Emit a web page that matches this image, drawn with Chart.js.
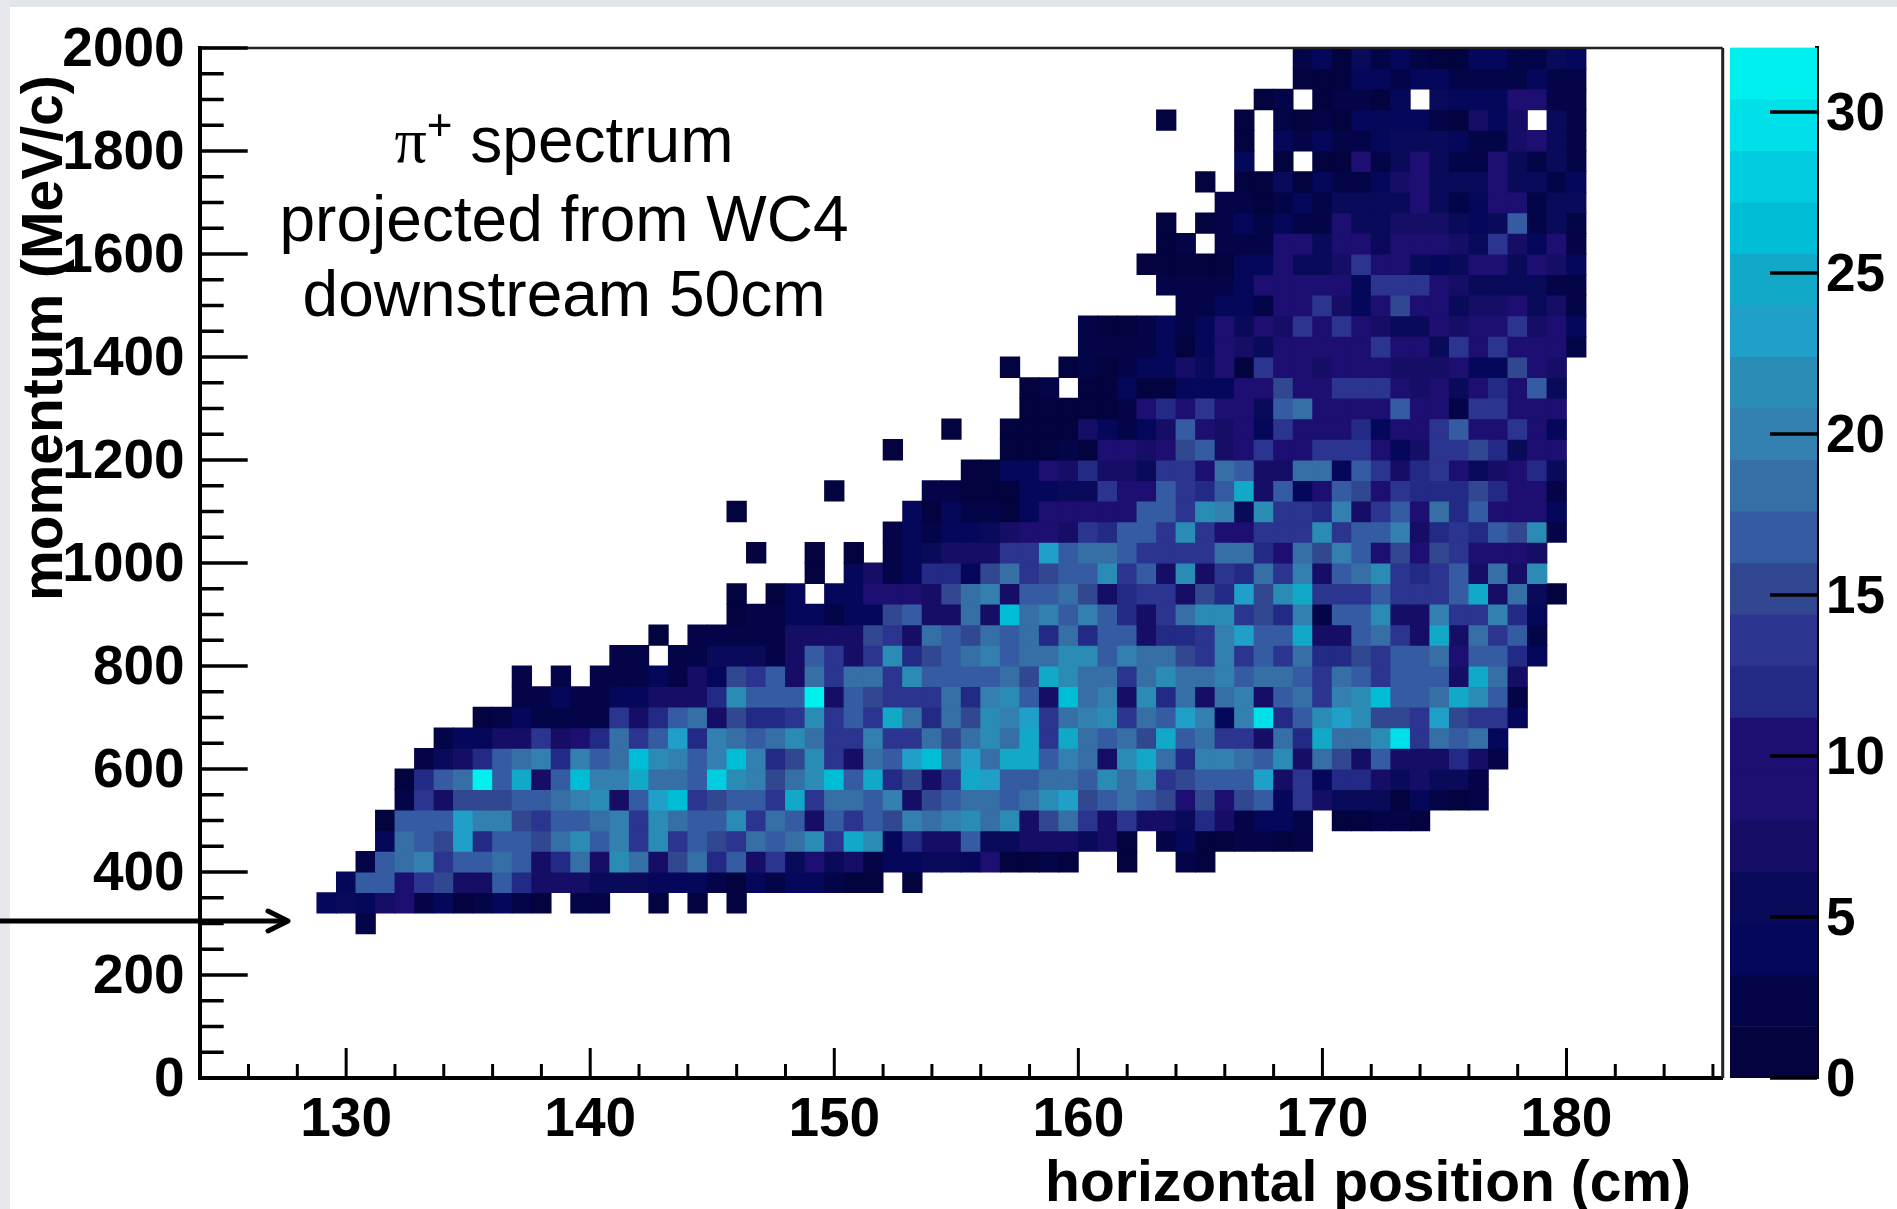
<!DOCTYPE html>
<html>
<head>
<meta charset="utf-8">
<title>pi+ spectrum</title>
<script src="https://cdn.jsdelivr.net/npm/chart.js@4"></script>
<style>
    html, body { margin: 0; padding: 0; background: #fff; overflow: hidden; }
    #slide { position: relative; width: 1897px; height: 1209px; overflow: hidden; background: #fff; }
    #topBand { position: absolute; left: 0; top: 0; width: 1897px; height: 7px; background: #e2e5ea; }
    #leftBand { position: absolute; left: 0; top: 0; width: 10px; height: 1209px; background: #e6e8ed; }
    canvas { position: absolute; top: 0; filter: blur(0.6px); }
    #mainChart { left: 0; }
    #paletteChart { left: 1700px; }
    #note { position: absolute; left: 214px; top: 106px; width: 700px; text-align: center;
        font: 64px/75.5px "Liberation Sans", sans-serif; color: #000; }
    #note .first { position: relative; top: -3px; }
    #note .pi { font-family: "Liberation Serif", serif; }
    #note sup { font-size: 44px; line-height: 0; vertical-align: 22px; }
    #arrow { position: absolute; left: 0; top: 0; }
</style>
</head>
<body>
<div id="slide">
    <div id="topBand"></div>
    <div id="leftBand"></div>
    <canvas id="mainChart" width="1897" height="1209"></canvas>
    <canvas id="paletteChart" width="197" height="1209"></canvas>
    <svg id="arrow" width="320" height="1000">
        <g fill="none" stroke="#000" stroke-width="5" stroke-linecap="round" stroke-linejoin="round">
            <path d="M0 921 H286"/>
            <path d="M268 911 L288 921 L268 931"/>
        </g>
    </svg>
    <div id="note"><span class="first"><span class="pi">π</span><sup>+</sup> spectrum</span><br>projected from WC4<br>downstream 50cm</div>
</div>
<script>
// histogram binning
const xMin = 124, xMax = 186.4, binWidth = 0.8;
const yMin = 0, yMax = 2000, binHeight = 40;
const zMax = 32;

const xTicks = [130, 140, 150, 160, 170, 180];
const yTicks = [0, 200, 400, 600, 800, 1000, 1200, 1400, 1600, 1800, 2000];
const zTicks = [0, 5, 10, 15, 20, 25, 30];

// first filled x bin of each momentum row, row 7 upwards
const firstBin = [8, 6, 7, 8, 9, 9, 10, 10, 11, 12, 14, 16, 16, 21, 23, 27, 27, 31, 28, 35, 27, 32, 39, 35, 38, 42, 42, 41, 45, 45, 50, 49, 48, 49, 49, 52, 51, 53, 53, 49, 54, 56, 56];

// counts per bin, 0 is an empty bin
const counts = [
    [2],
    [4,5,4,7,10,2,4,1,2,4,2,1,0,2,2,0,0,1,0,1,0,1],
    [4,16,16,10,13,15,7,7,16,12,7,7,7,5,5,5,4,4,4,2,1,4,2,4,4,2,1,1,0,1],
    [2,16,18,20,13,16,16,18,16,7,12,18,7,21,18,7,15,18,12,16,7,13,5,10,5,7,2,4,4,5,5,4,10,1,1,2,1,0,0,1,0,0,2,1],
    [4,18,16,15,23,12,16,16,15,18,21,16,20,13,21,13,16,15,13,18,16,18,21,13,25,21,4,12,7,7,16,5,5,7,7,7,5,7,1,0,2,4,1,1,2,2,1,2],
    [1,16,16,16,23,20,20,15,13,16,16,18,20,13,21,18,16,16,21,13,18,16,7,16,13,16,15,20,18,20,21,18,21,7,15,18,13,7,13,7,7,5,12,7,2,4,4,2,0,1,1,2,2,1],
    [2,13,7,15,15,15,16,16,18,20,21,7,16,23,26,13,15,16,16,13,25,13,18,18,16,20,7,15,16,18,18,16,18,21,23,15,16,18,16,15,10,15,10,15,16,4,13,7,5,5,5,1,4,2,1,2],
    [1,12,16,18,31,16,25,7,16,26,20,20,25,18,18,16,28,21,20,15,18,21,26,16,25,12,15,7,13,25,23,16,16,18,18,16,21,18,21,13,15,16,16,16,23,7,13,4,12,12,7,5,7,5,5,2],
    [2,5,7,12,16,18,20,12,20,16,18,26,21,20,16,20,26,20,12,15,21,13,7,18,16,23,26,18,23,18,25,25,16,20,18,7,21,25,18,12,20,20,18,16,21,7,18,15,7,16,7,7,7,12,7,2],
    [2,4,4,7,7,13,7,10,12,18,13,16,23,12,20,18,16,18,21,18,13,13,20,13,13,18,15,18,21,18,25,13,25,18,16,18,15,25,16,18,13,13,7,18,12,25,18,18,21,29,13,18,16,18,4],
    [1,2,4,2,2,2,2,13,7,12,16,18,7,15,12,12,13,21,13,16,13,25,18,12,18,15,21,20,23,13,18,20,21,13,18,16,23,20,4,20,29,12,16,21,23,21,15,15,13,23,15,13,13,4],
    [2,2,4,2,2,4,4,7,7,7,12,21,16,16,16,31,7,16,15,13,13,13,18,12,20,21,16,7,26,18,20,7,21,12,18,7,18,20,7,16,18,13,20,21,26,16,16,18,25,21,16,2],
    [2,0,2,0,2,2,2,4,2,7,4,15,13,16,7,18,13,18,18,13,21,16,16,16,16,18,15,25,21,18,18,13,18,21,18,18,20,16,18,18,16,13,18,16,13,16,16,16,7,25,18,7],
    [2,2,0,2,2,5,5,5,2,7,16,13,7,13,21,12,15,16,18,20,16,18,18,21,21,16,20,18,18,15,13,20,13,16,13,18,12,12,15,13,16,16,18,10,16,16,12,4],
    [1,0,2,2,2,2,2,7,7,7,7,15,13,7,18,16,15,18,16,18,12,18,12,16,16,7,12,12,13,20,23,16,16,25,7,7,16,18,13,7,25,7,18,13,16,2],
    [1,2,2,4,4,2,4,4,15,16,7,7,18,7,26,18,20,16,20,16,12,7,13,18,21,21,13,15,12,20,2,16,16,21,7,7,20,13,13,20,12,4],
    [1,0,1,4,0,4,4,10,10,10,7,15,18,20,7,16,16,18,15,7,12,13,13,7,15,12,23,15,21,25,13,13,13,16,13,13,13,16,25,7,18,5,1],
    [1,0,4,7,2,4,12,12,4,15,18,13,15,16,16,21,13,16,7,21,7,13,12,18,13,20,7,16,18,21,13,12,13,16,7,18,7,21],
    [1,0,0,1,0,1,0,2,4,5,7,7,7,13,13,23,16,18,18,16,13,13,13,13,18,18,12,10,18,15,20,16,10,15,10,15,13,10,10,10,7],
    [2,4,2,4,4,5,7,10,10,7,13,12,16,16,13,21,13,10,10,13,13,13,21,13,16,16,20,7,12,13,12,16,15,21,2],
    [1,0,0,0,0,0,0,0,0,4,1,4,2,2,1,4,10,10,10,10,10,16,16,13,21,20,5,21,13,13,12,20,7,13,16,10,18,12,16,10,10,10,4],
    [1,0,0,0,0,2,2,1,1,1,4,4,5,5,13,10,10,16,13,12,16,25,7,16,4,10,16,15,10,13,12,12,12,15,12,10,10,2],
    [1,1,4,4,10,7,12,7,7,5,13,13,10,18,16,7,7,18,18,4,16,13,7,12,13,10,5,7,10,12,5],
    [1,0,0,0,0,0,1,1,1,2,1,10,10,7,10,15,16,7,10,13,10,10,13,13,13,10,4,7,13,13,15,12,5,10,10],
    [1,0,0,1,1,1,1,7,4,2,4,7,16,10,7,10,4,13,10,10,10,12,4,10,10,13,16,10,10,13,10,4],
    [1,1,1,1,1,2,10,12,10,13,10,10,5,16,18,10,10,10,10,16,10,10,2,13,13,10,10,10],
    [1,2,0,1,1,4,1,1,4,4,4,10,10,15,10,10,13,13,13,10,7,10,5,10,12,10,16,5],
    [1,0,0,1,2,1,2,4,4,7,5,10,1,13,10,10,7,10,10,10,7,7,7,10,4,4,15,10,7],
    [2,2,2,2,4,1,4,10,7,5,10,10,10,10,10,13,10,10,5,13,10,13,10,10,10,2],
    [2,1,1,2,4,2,4,10,5,10,7,13,10,13,10,7,5,5,10,7,10,10,13,7,10,4],
    [2,2,4,4,2,10,10,13,7,4,10,15,10,10,5,7,7,10,5,7,2],
    [2,2,2,2,4,10,10,10,10,10,4,13,13,13,10,7,5,5,5,5,2,2],
    [1,1,1,1,1,4,4,10,5,5,7,13,10,10,5,4,5,10,10,5,10,7,4],
    [1,2,0,2,2,2,10,10,5,10,10,5,10,10,10,7,5,13,7,4,10,2],
    [1,0,1,2,4,2,4,2,2,10,5,5,7,7,7,5,4,5,16,2,5,2],
    [2,2,1,2,4,2,5,5,5,5,10,5,2,4,10,10,2,5,5],
    [1,0,1,1,5,1,4,2,2,4,7,10,5,5,5,10,5,5,2,4],
    [4,0,1,0,1,1,10,2,5,10,5,2,2,10,5,2,5,2],
    [1,0,4,2,4,2,2,4,5,5,5,4,2,2,7,10,5,2],
    [1,0,0,0,1,0,2,1,2,1,4,4,4,4,2,1,7,4,7,0,5,2],
    [1,2,0,1,2,2,1,4,0,5,4,4,4,10,10,2,2],
    [1,1,1,4,4,2,4,4,2,2,2,2,4,2,2],
    [2,4,1,5,2,4,2,1,1,4,4,2,2,5,4]
];

// twenty contour colours, bottom of the palette first
const paletteColors = ['#03033f', '#040448', '#05085a', '#0a0a5a', '#160e66', '#1d0f72', '#1d0f72', '#232a85', '#2b358f', '#31478f',
    '#355ca3', '#356fa5', '#337fb0', '#2a8cb5', '#20a0c8', '#12a8c8', '#00bdd6', '#00cde0', '#00e0e8', '#00f0f0'];
const firstRow = 7;

function colorFor(value) {
    const level = Math.min(Math.floor(value / (zMax / paletteColors.length)), paletteColors.length - 1);
    return paletteColors[level];
}

const cells = [];
const cellColors = [];
counts.forEach((row, r) => {
    row.forEach((value, i) => {
        if (value === 0) return;
        const bin = firstBin[r] + i;
        const low = (firstRow + r) * binHeight;
        cells.push({ x: xMin + (bin + 0.5) * binWidth, y: [low, low + binHeight] });
        cellColors.push(colorFor(value));
    });
});

const paletteBars = paletteColors.map((c, i) => ({ x: 0.5, y: [i * zMax / paletteColors.length, (i + 1) * zMax / paletteColors.length] }));

Chart.defaults.font.family = '"Liberation Sans", sans-serif';
Chart.defaults.color = '#000';
Chart.defaults.animation = false;

function tick(ctx, x1, y1, x2, y2, w) {
    ctx.lineWidth = w;
    ctx.beginPath();
    ctx.moveTo(x1, y1);
    ctx.lineTo(x2, y2);
    ctx.stroke();
}

// ROOT style ticks point into the frame and have two lengths
const frameTicks = {
    id: 'frameTicks',
    afterDatasetsDraw(chart) {
        const { ctx, chartArea: a, scales } = chart;
        ctx.save();
        ctx.strokeStyle = '#222';
        tick(ctx, a.left, a.top, a.right, a.top, 2.5);
        tick(ctx, a.right, a.top, a.right, a.bottom, 3);
        ctx.strokeStyle = '#000';
        for (let v = 0; v <= yMax; v += 50) {
            const y = scales.y.getPixelForValue(v);
            tick(ctx, a.left, y, a.left + (yTicks.includes(v) ? 48 : 24), y, 3.5);
        }
        for (let v = 126; v <= xMax; v += 2) {
            const x = scales.x.getPixelForValue(v);
            tick(ctx, x, a.bottom, x, a.bottom - (xTicks.includes(v) ? 30 : 14), 3);
        }
        ctx.restore();
    }
};

const paletteTicks = {
    id: 'paletteTicks',
    afterDatasetsDraw(chart) {
        const { ctx, chartArea: a, scales } = chart;
        ctx.save();
        ctx.strokeStyle = '#000';
        zTicks.forEach(v => {
            const y = scales.y.getPixelForValue(v);
            tick(ctx, a.right, y, a.right - 47, y, 3.5);
        });
        ctx.restore();
    }
};

new Chart(document.getElementById('mainChart'), {
    type: 'bar',
    data: {
        datasets: [{
            data: cells,
            backgroundColor: cellColors,
            barThickness: 19.51,
            borderWidth: 0,
            inflateAmount: 0.4
        }]
    },
    options: {
        responsive: false,
        layout: { padding: { left: 0, top: 47.5, right: 174.3, bottom: 0 } },
        plugins: { legend: { display: false }, tooltip: { enabled: false } },
        scales: {
            x: {
                type: 'linear',
                offset: false,
                min: xMin,
                max: xMax,
                afterBuildTicks: s => { s.ticks = xTicks.map(value => ({ value })); },
                afterFit: s => { s.height = 131; },
                grid: { display: false, drawTicks: false },
                border: { color: '#000', width: 4 },
                ticks: { font: { size: 55, weight: 'bold' }, padding: 10, autoSkip: false, maxRotation: 0, callback: v => String(v) },
                title: {
                    display: true,
                    text: 'horizontal position (cm)  ',
                    align: 'end',
                    font: { size: 57, weight: 'bold', lineHeight: 1 },
                    padding: { top: 0, bottom: -5 }
                }
            },
            y: {
                min: yMin,
                max: yMax,
                afterBuildTicks: s => { s.ticks = yTicks.map(value => ({ value })); },
                afterFit: s => { s.width = 199.7; },
                grid: { display: false, drawTicks: false },
                border: { color: '#000', width: 4 },
                ticks: { font: { size: 55, weight: 'bold' }, padding: 15, labelOffset: 3, autoSkip: false, callback: v => String(v) },
                title: {
                    display: true,
                    text: 'momentum (MeV/c) \u2009',
                    align: 'end',
                    font: { size: 57, weight: 'bold', lineHeight: 1 },
                    padding: { top: 18, bottom: 0 }
                }
            }
        }
    },
    plugins: [frameTicks]
});

new Chart(document.getElementById('paletteChart'), {
    type: 'bar',
    data: {
        datasets: [{
            data: paletteBars,
            backgroundColor: paletteColors,
            barThickness: 87,
            borderWidth: 0
        }]
    },
    options: {
        responsive: false,
        layout: { padding: { left: 30, top: 47.5, right: 0, bottom: 131 } },
        plugins: { legend: { display: false }, tooltip: { enabled: false } },
        scales: {
            x: { type: 'linear', offset: false, min: 0, max: 1, display: false },
            y: {
                position: 'right',
                min: 0,
                max: zMax,
                afterBuildTicks: s => { s.ticks = zTicks.map(value => ({ value })); },
                afterFit: s => { s.width = 80; },
                grid: { display: false, drawTicks: false },
                border: { color: '#000', width: 4 },
                ticks: { font: { size: 53, weight: 'bold' }, padding: 9, labelOffset: 3, autoSkip: false }
            }
        }
    },
    plugins: [paletteTicks]
});
</script>
</body>
</html>
